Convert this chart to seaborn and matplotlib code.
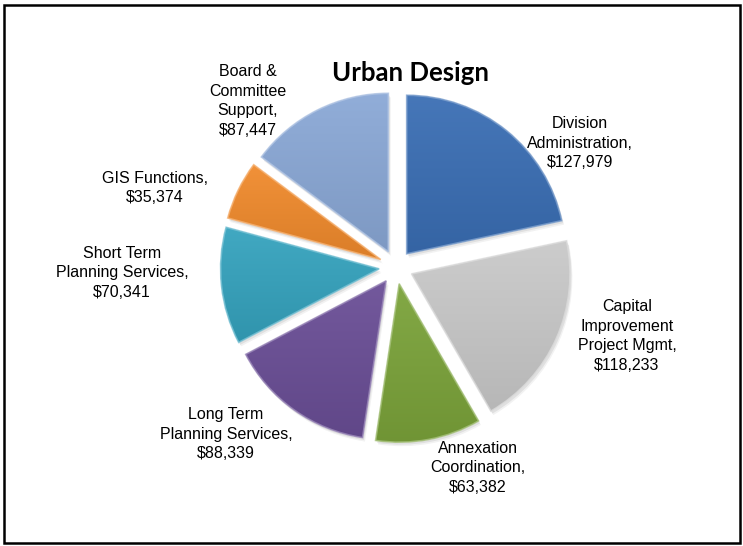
import numpy as np
import matplotlib
matplotlib.use("Agg")
import matplotlib.pyplot as plt
import matplotlib.colors as mcolors
from matplotlib.patches import Rectangle, Wedge
import seaborn as sns

# Budget by program area (clockwise from 12 o'clock)
categories = [
    "Division\nAdministration",
    "Capital\nImprovement\nProject Mgmt",
    "Annexation\nCoordination",
    "Long Term\nPlanning Services",
    "Short Term\nPlanning Services",
    "GIS Functions",
    "Board &\nCommittee\nSupport",
]
amounts = [127979, 118233, 63382, 88339, 70341, 35374, 87447]
slice_colors = ["#3A6EB4", "#C9C9C9", "#7BA33A", "#6A4E96", "#35A3BE", "#F08A2C", "#8AA8D6"]
chart_title = "Urban Design"

# label anchor points in pixel space (x, y from top)
label_pos = [(580, 143), (627, 336), (478, 468), (226, 434), (122, 273), (155, 188), (248, 101)]

sns.set_theme(style="white")
plt.rcParams["font.family"] = ["Liberation Sans", "DejaVu Sans"]

W, H = 743, 546
fig = plt.figure(figsize=(W / 100, H / 100), dpi=100)
ax = fig.add_axes([0, 0, 1, 1])

cx, cy = 396, H - 267
R = 158.5
explode = [17] * len(amounts)

wedges, _ = ax.pie(
    amounts, colors=slice_colors, startangle=90, counterclock=False,
    radius=R, center=(cx, cy), explode=explode,
    wedgeprops=dict(linewidth=0, zorder=2),
)
ax.set_xlim(0, W)
ax.set_ylim(0, H)
ax.set_aspect("equal", adjustable="box")
ax.axis("off")


def mix(c, other, t):
    a = np.array(mcolors.to_rgb(c))
    b = np.array(mcolors.to_rgb(other))
    return tuple(a * (1 - t) + b * t)


for w, col in zip(wedges, slice_colors):
    verts = w.get_path().vertices
    x0, y0 = verts.min(axis=0)
    x1, y1 = verts.max(axis=0)
    # soft drop shadow
    for k, a in ((4, 0.05), (2.5, 0.07)):
        ax.add_patch(Wedge((w.center[0] + k * 0.6, w.center[1] - k), w.r,
                           w.theta1, w.theta2, facecolor="black", alpha=a,
                           linewidth=0, zorder=1))
    # gentle vertical shading: a touch lighter toward the top of each slice
    top = np.array(mix(col, "white", 0.06))
    bot = np.array(mix(col, "black", 0.09))
    t = np.linspace(0, 1, 256)[:, None]
    grad = bot[None, :] * (1 - t) + top[None, :] * t
    img = np.repeat(grad[:, None, :], 2, axis=1)
    im = ax.imshow(img, extent=[x0, x1, y0, y1], origin="lower",
                   interpolation="bilinear", aspect="auto", zorder=2)
    im.set_clip_path(w)
    # bevel highlight along the rim
    ax.add_patch(Wedge(w.center, w.r, w.theta1, w.theta2, facecolor="none",
                       edgecolor=mix(col, "white", 0.35), linewidth=1.2,
                       alpha=0.8, zorder=3))

ax.set_xlim(0, W)
ax.set_ylim(0, H)

for name, val, (lx, ly) in zip(categories, amounts, label_pos):
    ax.text(lx, H - ly, f"{name},\n${val:,}", ha="center", va="center",
            fontsize=11.5, linespacing=1.38, color="black", zorder=5)

ax.text(410, H - 73, chart_title, ha="center", va="center", fontsize=18.5,
        fontweight="bold", family=["Lato", "DejaVu Sans"], color="black", zorder=5)

ax.add_patch(Rectangle((4, H - 543), 736, 538, fill=False, edgecolor="black",
                       linewidth=1.8, zorder=6))

fig.savefig("out.png", dpi=100)
